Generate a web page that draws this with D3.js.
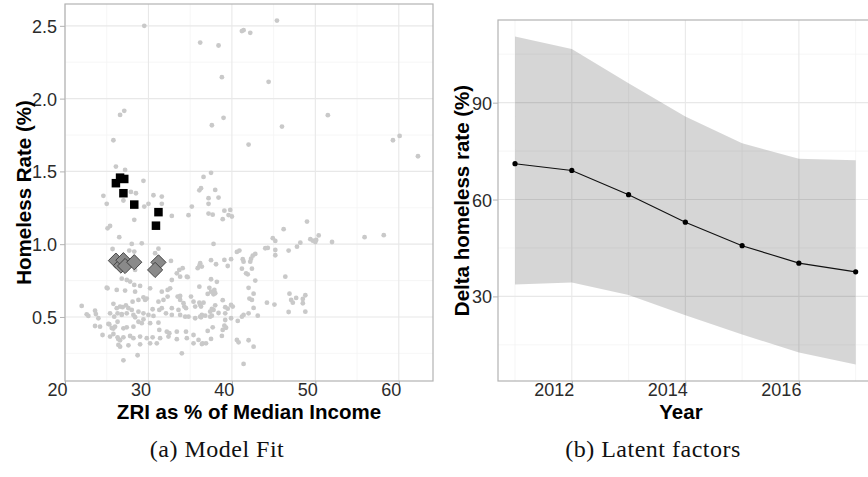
<!DOCTYPE html>
<html lang="en">
<head>
    <meta charset="utf-8">
    <title>Model fit and latent factors</title>
    <style type="text/css">
        body{ margin:0; background:#fff; }
        .tick-label{ font-family:"Liberation Sans", Arial, sans-serif; font-size:18px; fill:#2b2b2b; }
        .axis-title{ font-family:"Liberation Sans", Arial, sans-serif; font-size:20.5px; font-weight:bold; fill:#000; }
        .caption{ font-family:"Liberation Serif", "DejaVu Serif", serif; font-size:24px; letter-spacing:0.5px; fill:#111; }
    </style>
</head>
<body>
<svg class="figure" width="868" height="477"></svg>
<script src="https://d3js.org/d3.v7.min.js"></script>
<script>
    // ---- data: panel (a), [ZRI %, homeless rate %] ----
    var otherCities = [
        [29.5,2.50],[36.2,2.385],[38.4,2.365],[27.1,1.916],[26.6,1.888],[37.6,1.817],[25.8,1.714],[26.1,1.533],[27.2,1.51],[29.4,1.435],
        [36.6,1.462],[37.5,1.49],[36.1,1.37],[36.3,1.385],[38.0,1.373],[24.6,1.332],[27.9,1.359],[28.5,1.35],[30.6,1.336],[31.6,1.327],
        [45.4,2.536],[41.2,2.464],[41.4,2.47],[42.2,2.452],[38.8,2.147],[44.4,2.115],[39.0,1.868],[46.0,1.808],[51.5,1.886],[42.0,1.684],
        [59.3,1.714],[60.1,1.744],[62.3,1.604],[38.4,1.32],
        [37.2,1.277],[37.2,1.21],[37.7,1.203],[39.1,1.23],[39.8,1.235],[38.9,1.172],[39.6,1.20],[40.0,1.19],[37.8,1.002],[37.5,0.89],
        [38.1,0.862],[39.1,0.892],[39.5,0.85],[39.9,0.897],[40.6,0.947],[40.9,0.956],[41.3,0.897],[41.4,0.88],[41.2,0.832],[41.7,0.80],
        [41.9,0.793],[42.3,0.90],[42.2,0.88],[42.5,0.921],[42.8,0.933],[42.4,0.832],[42.8,0.75],[42.0,0.70],[42.6,0.66],[42.1,0.626],
        [42.4,0.617],[42.6,0.562],[43.1,0.509],[42.0,0.525],[41.4,0.514],[41.2,0.502],[40.7,0.473],[40.6,0.342],[40.8,0.326],[42.0,0.34],
        [42.6,0.296],[41.4,0.177],
        [46.2,1.103],[44.9,1.041],[45.2,1.022],[44.0,0.972],[44.3,0.974],[45.2,0.96],[45.2,0.924],[46.8,0.956],[47.8,0.983],[48.2,1.01],
        [49.0,1.155],[49.4,1.034],[49.7,1.024],[50.0,1.015],[50.1,1.029],[50.4,1.06],[52.0,1.015],[55.9,1.048],[58.2,1.062],
        [46.4,0.777],[46.9,0.66],[47.1,0.617],[47.3,0.598],[47.7,0.631],[48.5,0.594],[48.5,0.624],[48.8,0.649],[46.8,0.534],[48.8,0.536],
        [44.2,0.598],[45.1,0.585],
        [36.2,0.869],[36.4,0.846],[37.5,0.759],[38.2,0.741],[37.3,0.70],[37.9,0.686],[37.8,0.656],[38.9,0.615],[36.6,0.598],[36.2,0.583],
        [38.0,0.58],[37.6,0.555],[37.8,0.548],[37.4,0.536],[39.2,0.567],[39.5,0.557],[39.9,0.582],[40.1,0.571],[39.2,0.525],[36.4,0.514],
        [36.8,0.509],[36.3,0.498],[37.6,0.509],[37.4,0.502],[38.4,0.527],[39.9,0.491],[39.2,0.479],[37.7,0.429],[37.1,0.404],[39.1,0.44],
        [39.3,0.426],[38.9,0.411],[38.8,0.37],[36.5,0.319],[36.9,0.319],[37.5,0.349],
        [25.0,1.277],[27.0,1.30],[29.5,1.258],[30.0,1.277],[31.6,1.277],[28.3,1.167],[32.8,1.194],[34.8,1.199],[35.2,1.258],[25.1,1.109],
        [25.4,1.125],[26.5,1.048],[28.0,1.002],[29.2,1.006],[25.7,0.967],[27.7,0.956],[28.3,0.949],[31.2,0.969],[30.8,0.938],[28.4,0.823],
        [33.7,0.823],[33.4,0.80],[35.9,0.835],[36.1,0.85],[34.7,0.773],[26.8,0.763],[27.4,0.754],[27.8,0.743],[28.3,0.72],[29.0,0.713],
        [25.1,0.697],[26.2,0.686],[27.2,0.681],[28.4,0.674],[31.6,0.674],[32.6,0.697],[33.5,0.64],[33.8,0.644],[30.2,0.697],[22.0,0.576],
        [25.8,0.59],[28.1,0.605],[28.8,0.617],[29.6,0.617],[29.4,0.635],[29.8,0.626],[31.2,0.605],[31.8,0.617],[32.3,0.64],[30.5,0.553],
        [31.3,0.548],[31.6,0.56],[32.8,0.56],[33.8,0.617],[34.2,0.594],[34.3,0.571],[34.5,0.56],[33.6,0.548],[35.1,0.64],[35.4,0.605],
        [35.6,0.571],[36.1,0.598],[36.3,0.571],[22.6,0.518],[22.8,0.507],[23.6,0.543],[23.7,0.52],[26.2,0.56],[26.6,0.571],[26.9,0.567],
        [27.6,0.56],[28.0,0.548],[26.3,0.525],[26.8,0.514],[27.4,0.525],[28.2,0.514],[28.8,0.536],[29.4,0.525],[28.4,0.498],[29.4,0.484],
        [30.0,0.514],[30.6,0.507],[24.0,0.491],[23.6,0.438],[24.2,0.433],[25.2,0.452],[25.6,0.424],[26.0,0.433],[27.0,0.422],[27.4,0.429],
        [28.2,0.433],[28.8,0.467],[29.2,0.457],[30.2,0.457],[31.2,0.461],[32.1,0.525],[32.8,0.514],[31.3,0.411],[32.2,0.399],[32.5,0.388],
        [33.8,0.514],[34.4,0.502],[34.8,0.502],[35.6,0.491],[36.2,0.502],[33.4,0.399],[34.5,0.399],[35.4,0.376],[36.0,0.342],[24.5,0.376],
        [25.4,0.365],[25.8,0.383],[26.4,0.347],[27.0,0.36],[27.8,0.369],[28.2,0.354],[29.0,0.365],[29.8,0.354],[30.5,0.36],[31.4,0.354],
        [32.4,0.365],[26.4,0.308],[26.6,0.296],[27.6,0.305],[29.0,0.312],[30.2,0.319],[31.0,0.319],[33.4,0.347],[34.6,0.354],[28.7,0.237],
        [27.0,0.202],[34.0,0.25],[35.4,0.319],[36.4,0.314],[32.3,0.686],[32.8,0.754],[33.8,0.777],
        [25.0,0.701],[25.4,0.525],[25.9,0.502],[26.3,0.467],[32.7,0.885],[34.1,0.835],[34.6,0.777],[37.2,1.316],[36.1,0.708],[37.5,0.674],
        [38.0,0.663],[37.1,0.658],[27.3,0.58],[26.8,0.52],[25.3,0.45],[25.8,0.42],[26.3,0.36],[26.6,0.34]
    ];
    var observedCities = [[26.1,1.419],[26.6,1.457],[27.1,1.448],[27.0,1.350],[28.3,1.272],[31.2,1.220],[30.9,1.127]];
    var fittedCities   = [[26.1,0.887],[26.7,0.853],[27.0,0.890],[27.2,0.850],[28.3,0.876],[31.2,0.875],[30.8,0.823]];

    var xTicksA = [20, 30, 40, 50, 60];
    var yTicksA = [0.5, 1.0, 1.5, 2.0, 2.5];

    // ---- data: panel (b) ----
    var years      = [2011, 2012, 2013, 2014, 2015, 2016, 2017];
    var deltaMean  = [71.1, 69.0, 61.5, 53.0, 45.7, 40.3, 37.6];
    var deltaUpper = [110.5, 106.6, 96.0, 85.7, 77.4, 72.6, 72.2];
    var deltaLower = [33.7, 34.3, 30.4, 24.2, 18.2, 12.6, 8.9];

    var xTicksB = [2012, 2014, 2016];
    var yTicksB = [30, 60, 90];

    var svg = d3.select('.figure');

    // draws grid, border, ticks for one panel
    function drawFrame(g, x, y, w, h, xMajor, xMinor, yMajor, yMinor, xFmt, yFmt, yLabX){
        g.append('g').selectAll('line').data(yMinor).enter().append('line')
            .attr('x1', 0).attr('x2', w)
            .attr('y1', function(d){ return y(d); }).attr('y2', function(d){ return y(d); })
            .attr('stroke', '#f4f4f4').attr('stroke-width', 0.8);
        g.append('g').selectAll('line').data(xMinor).enter().append('line')
            .attr('y1', 0).attr('y2', h)
            .attr('x1', function(d){ return x(d); }).attr('x2', function(d){ return x(d); })
            .attr('stroke', '#f4f4f4').attr('stroke-width', 0.8);
        g.append('g').selectAll('line').data(yMajor).enter().append('line')
            .attr('x1', 0).attr('x2', w)
            .attr('y1', function(d){ return y(d); }).attr('y2', function(d){ return y(d); })
            .attr('stroke', '#e8e8e8').attr('stroke-width', 1.1);
        g.append('g').selectAll('line').data(xMajor).enter().append('line')
            .attr('y1', 0).attr('y2', h)
            .attr('x1', function(d){ return x(d); }).attr('x2', function(d){ return x(d); })
            .attr('stroke', '#e8e8e8').attr('stroke-width', 1.1);

        // axes (ticks + labels)
        var xAxis = g.append('g').attr('transform', 'translate(0,' + h + ')')
            .call(d3.axisBottom(x).tickValues(xMajor).tickSize(5).tickSizeOuter(0).tickFormat(xFmt));
        xAxis.select('.domain').remove();
        xAxis.selectAll('line').attr('stroke', '#b3b3b3');
        xAxis.selectAll('text').attr('class', 'tick-label').attr('text-anchor', 'end')
            .attr('x', 2).attr('y', 2).attr('dy', '0.71em').attr('font-size', null).attr('font-family', null).attr('fill', null);

        var yAxis = g.append('g')
            .call(d3.axisLeft(y).tickValues(yMajor).tickSize(5).tickSizeOuter(0).tickFormat(yFmt));
        yAxis.select('.domain').remove();
        yAxis.selectAll('line').attr('stroke', '#b3b3b3');
        yAxis.selectAll('text').attr('class', 'tick-label').attr('x', yLabX).attr('dy', '0.36em')
            .attr('font-size', null).attr('font-family', null).attr('fill', null);

        g.append('rect').attr('width', w).attr('height', h)
            .attr('fill', 'none').attr('stroke', '#b3b3b3').attr('stroke-width', 1.2);
    }

    // ================= panel (a) =================
    var pa = {left: 65, top: 4, right: 433, bottom: 381};
    var wa = pa.right - pa.left, ha = pa.bottom - pa.top;
    var xa = d3.scaleLinear().domain([20, 64.1]).range([0, wa]);
    var ya = d3.scaleLinear().domain([0.06, 2.65]).range([ha, 0]);
    var ga = svg.append('g').attr('transform', 'translate(' + pa.left + ',' + pa.top + ')');

    drawFrame(ga, xa, ya, wa, ha, xTicksA, [25, 35, 45, 55], yTicksA, [0.25, 0.75, 1.25, 1.75, 2.25],
        d3.format('d'), d3.format('.1f'), -8);

    var marksA = ga.append('g');
    marksA.selectAll('.city').data(otherCities).enter().append('circle')
        .attr('class', 'city')
        .attr('cx', function(d){ return xa(d[0]); })
        .attr('cy', function(d){ return ya(d[1]); })
        .attr('r', 2.4)
        .attr('fill', '#c9c9c9');

    var sq = 8.5;
    marksA.selectAll('.obs').data(observedCities).enter().append('rect')
        .attr('class', 'obs')
        .attr('x', function(d){ return xa(d[0]) - sq / 2; })
        .attr('y', function(d){ return ya(d[1]) - sq / 2; })
        .attr('width', sq).attr('height', sq)
        .attr('fill', '#000');

    var dm = 7.6;
    marksA.selectAll('.fit').data(fittedCities).enter().append('path')
        .attr('class', 'fit')
        .attr('d', 'M0,' + (-dm) + 'L' + dm + ',0L0,' + dm + 'L' + (-dm) + ',0Z')
        .attr('transform', function(d){ return 'translate(' + xa(d[0]) + ',' + ya(d[1]) + ')'; })
        .attr('fill', '#8a8a8a').attr('stroke', '#3a3a3a').attr('stroke-width', 0.9);

    svg.append('text').attr('class', 'axis-title')
        .attr('x', pa.left + wa / 2).attr('y', 419).attr('text-anchor', 'middle')
        .text('ZRI as % of Median Income');
    svg.append('text').attr('class', 'axis-title')
        .attr('transform', 'translate(31,' + (pa.top + ha / 2) + ') rotate(-90)')
        .attr('text-anchor', 'middle')
        .text('Homeless Rate (%)');

    // ================= panel (b) =================
    var pb = {left: 498, top: 20, right: 872.7, bottom: 381};
    var wb = pb.right - pb.left, hb = pb.bottom - pb.top;
    var xb = d3.scaleLinear().domain([2010.7, 2017.3]).range([0, wb]);
    var yb = d3.scaleLinear().domain([3.8, 115.6]).range([hb, 0]);
    var gb = svg.append('g').attr('transform', 'translate(' + pb.left + ',' + pb.top + ')');

    drawFrame(gb, xb, yb, wb, hb, xTicksB, [2011, 2013, 2015, 2017], yTicksB, [15, 45, 75, 105],
        d3.format('d'), d3.format('d'), -6);

    var band = d3.area()
        .x(function(d, i){ return xb(years[i]); })
        .y0(function(d, i){ return yb(deltaLower[i]); })
        .y1(function(d, i){ return yb(deltaUpper[i]); });
    gb.append('path').datum(years).attr('d', band)
        .attr('fill', '#000').attr('fill-opacity', 0.16);

    var line = d3.line()
        .x(function(d, i){ return xb(years[i]); })
        .y(function(d){ return yb(d); });
    gb.append('path').datum(deltaMean).attr('d', line)
        .attr('fill', 'none').attr('stroke', '#111').attr('stroke-width', 1.1);
    gb.selectAll('.pt').data(deltaMean).enter().append('circle')
        .attr('class', 'pt')
        .attr('cx', function(d, i){ return xb(years[i]); })
        .attr('cy', function(d){ return yb(d); })
        .attr('r', 2.6).attr('fill', '#000');

    svg.append('text').attr('class', 'axis-title')
        .attr('x', 681).attr('y', 419).attr('text-anchor', 'middle')
        .text('Year');
    svg.append('text').attr('class', 'axis-title')
        .attr('transform', 'translate(469,' + (pb.top + hb / 2) + ') rotate(-90)')
        .attr('text-anchor', 'middle')
        .text('Delta homeless rate (%)');

    // captions
    svg.append('text').attr('class', 'caption').attr('x', 217).attr('y', 457)
        .attr('text-anchor', 'middle').text('(a) Model Fit');
    svg.append('text').attr('class', 'caption').attr('x', 653).attr('y', 457)
        .attr('text-anchor', 'middle').text('(b) Latent factors');
</script>
</body>
</html>
